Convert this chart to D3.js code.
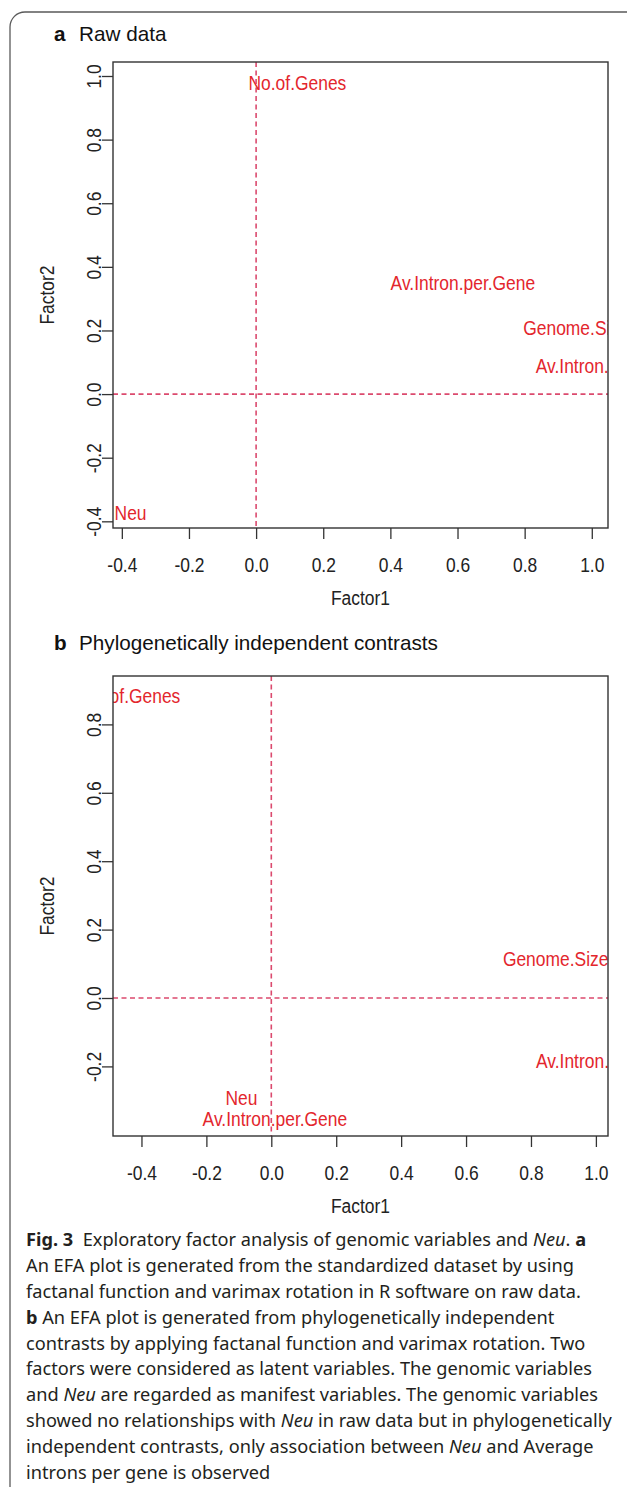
<!DOCTYPE html>
<html>
<head>
<meta charset="utf-8">
<script src="https://cdn.jsdelivr.net/npm/d3@7"></script>
<style>
  body { margin: 0; background: #fff; }
  svg text { font-family: "Liberation Sans", Arial, sans-serif; }
  .caption text { font-family: "Noto Sans", sans-serif; white-space: pre; }
</style>
</head>
<body>
<div id="container"></div>
<script>
/* CONSTANTS AND GLOBALS */
const width = 627,
  height = 1487,
  plotLeft = 113,
  plotRight = 608;

const labelRed = "#E3262D",
  lineRed = "#DB4A6E",
  axisColor = "#333",
  squeeze = 0.83; // the R text in the figure is narrower than Arial

/* DATA */
// manifest variables, same order in both panels
const variables = ["No.of.Genes", "Av.Intron.per.Gene", "Genome.Size", "Av.Intron.Length", "Neu"];

// a: raw data loadings
const rawFactor1 = [0.123, 0.616, 0.953, 1.021, -0.374];
const rawFactor2 = [0.981, 0.352, 0.211, 0.091, -0.371];

// b: phylogenetically independent contrasts loadings
const picFactor1 = [-0.431, 0.011, 0.876, 1.01, -0.092];
const picFactor2 = [0.886, -0.351, 0.117, -0.184, -0.292];

// axis limits and ticks
const rawXLim = [-0.4263, 1.0483], rawYLim = [-0.421, 1.044];
const picXLim = [-0.4877, 1.0373], picYLim = [-0.4035, 0.9415];
const rawXTicks = [-0.4, -0.2, 0, 0.2, 0.4, 0.6, 0.8, 1.0];
const rawYTicks = [-0.4, -0.2, 0, 0.2, 0.4, 0.6, 0.8, 1.0];
const picXTicks = [-0.4, -0.2, 0, 0.2, 0.4, 0.6, 0.8, 1.0];
const picYTicks = [-0.2, 0, 0.2, 0.4, 0.6, 0.8];

// caption, one entry per line: [text, style]
const captionLines = [
  [["Fig. 3", "b"], ["  Exploratory factor analysis of genomic variables and ", ""], ["Neu", "i"], [". ", ""], ["a", "b"]],
  [["An EFA plot is generated from the standardized dataset by using", ""]],
  [["factanal function and varimax rotation in R software on raw data.", ""]],
  [["b", "b"], [" An EFA plot is generated from phylogenetically independent", ""]],
  [["contrasts by applying factanal function and varimax rotation. Two", ""]],
  [["factors were considered as latent variables. The genomic variables", ""]],
  [["and ", ""], ["Neu", "i"], [" are regarded as manifest variables. The genomic variables", ""]],
  [["showed no relationships with ", ""], ["Neu", "i"], [" in raw data but in phylogenetically", ""]],
  [["independent contrasts, only association between ", ""], ["Neu", "i"], [" and Average", ""]],
  [["introns per gene is observed", ""]]
];

const fmt = d => d.toFixed(1);

/* HTML ELEMENTS */
const svg = d3.select("#container")
  .append("svg")
  .attr("width", width)
  .attr("height", height);

// outer frame with rounded top-left corner
svg.append("path")
  .attr("d", `M10,${height} V27 A15,15 0 0 1 25,12 H${width}`)
  .attr("fill", "none")
  .attr("stroke", "#5a5a5a")
  .attr("stroke-width", 1.3);

function drawPanel(opts) {
  const { id, letter, title, titleY, top, bottom, xLim, yLim, xTicks, yTicks, f1, f2 } = opts;

  const xScale = d3.scaleLinear().domain(xLim).range([plotLeft, plotRight]);
  const yScale = d3.scaleLinear().domain(yLim).range([bottom, top]);

  // panel title
  const t = svg.append("text")
    .attr("x", 54)
    .attr("y", titleY)
    .attr("font-size", 20.7)
    .attr("fill", "#111");
  t.append("tspan").attr("font-weight", "bold").text(letter);
  t.append("tspan").attr("x", 79).text(title);

  // clip to plot region like R does
  svg.append("clipPath").attr("id", "clip-" + id)
    .append("rect")
    .attr("x", plotLeft).attr("y", top)
    .attr("width", plotRight - plotLeft).attr("height", bottom - top);

  const inner = svg.append("g").attr("clip-path", `url(#clip-${id})`);

  // reference lines at 0
  inner.append("line")
    .attr("x1", plotLeft).attr("x2", plotRight)
    .attr("y1", yScale(0)).attr("y2", yScale(0))
    .attr("stroke", lineRed).attr("stroke-width", 1.6)
    .attr("stroke-dasharray", "5,3.5");
  inner.append("line")
    .attr("x1", xScale(0)).attr("x2", xScale(0))
    .attr("y1", top).attr("y2", bottom)
    .attr("stroke", lineRed).attr("stroke-width", 1.6)
    .attr("stroke-dasharray", "5,3.5");

  // variable labels
  inner.selectAll("text.var")
    .data(variables.map((v, i) => ({ name: v, f1: f1[i], f2: f2[i] })))
    .join("text")
    .attr("class", "var")
    .attr("transform", d => `translate(${xScale(d.f1)},${yScale(d.f2)}) scale(${squeeze},1)`)
    .attr("text-anchor", "middle")
    .attr("dy", "0.36em")
    .attr("font-size", 21)
    .attr("fill", labelRed)
    .text(d => d.name);

  // axes
  const xAxis = d3.axisBottom(xScale)
    .tickValues(xTicks).tickFormat(fmt)
    .tickSizeInner(11).tickSizeOuter(0);
  const gx = svg.append("g")
    .attr("transform", `translate(0,${bottom})`)
    .call(xAxis);
  gx.select(".domain").remove();
  gx.selectAll("line").attr("stroke", axisColor).attr("stroke-width", 1.3);
  gx.selectAll("text")
    .attr("y", 36).attr("dy", "0.36em")
    .attr("transform", `scale(${squeeze},1)`)
    .attr("font-size", 21).attr("fill", "#222")
    .attr("font-family", null);

  const yAxis = d3.axisLeft(yScale)
    .tickValues(yTicks).tickFormat(fmt)
    .tickSizeInner(11).tickSizeOuter(0);
  const gy = svg.append("g")
    .attr("transform", `translate(${plotLeft},0)`)
    .call(yAxis);
  gy.select(".domain").remove();
  gy.selectAll("line").attr("stroke", axisColor).attr("stroke-width", 1.3);
  gy.selectAll("text")
    .attr("x", 0).attr("y", 0).attr("dy", "0.36em")
    .attr("text-anchor", "middle")
    .attr("transform", `translate(-20,0) rotate(-90) scale(${squeeze},1)`)
    .attr("font-size", 21).attr("fill", "#222")
    .attr("font-family", null);

  // box
  svg.append("rect")
    .attr("x", plotLeft).attr("y", top)
    .attr("width", plotRight - plotLeft).attr("height", bottom - top)
    .attr("fill", "none")
    .attr("stroke", axisColor).attr("stroke-width", 1.4);

  // axis titles
  svg.append("text")
    .attr("transform", `translate(${(plotLeft + plotRight) / 2},${bottom + 69}) scale(${squeeze},1)`)
    .attr("text-anchor", "middle").attr("dy", "0.36em")
    .attr("font-size", 21).attr("fill", "#222")
    .text("Factor1");
  svg.append("text")
    .attr("transform", `translate(${plotLeft - 67},${(top + bottom) / 2}) rotate(-90) scale(${squeeze},1)`)
    .attr("text-anchor", "middle").attr("dy", "0.36em")
    .attr("font-size", 21).attr("fill", "#222")
    .text("Factor2");
}

drawPanel({
  id: "a", letter: "a", title: "Raw data", titleY: 41,
  top: 62, bottom: 528,
  xLim: rawXLim, yLim: rawYLim, xTicks: rawXTicks, yTicks: rawYTicks,
  f1: rawFactor1, f2: rawFactor2
});

drawPanel({
  id: "b", letter: "b", title: "Phylogenetically independent contrasts", titleY: 650,
  top: 676, bottom: 1136,
  xLim: picXLim, yLim: picYLim, xTicks: picXTicks, yTicks: picYTicks,
  f1: picFactor1, f2: picFactor2
});

/* CAPTION */
const cap = svg.append("g").attr("class", "caption");
const lines = cap.selectAll("text")
  .data(captionLines)
  .join("text")
  .attr("x", 0)
  .attr("y", (d, i) => 1246 + i * 25.9)
  .attr("font-size", 18)
  .attr("fill", "#231f20");
lines.selectAll("tspan")
  .data(d => d)
  .join("tspan")
  .attr("font-weight", d => d[1] === "b" ? "bold" : null)
  .attr("font-style", d => d[1] === "i" ? "italic" : null)
  .text(d => d[0]);

// squeeze the caption so the longest line spans like the original
const longest = lines.filter((d, i) => i === 7).node().getComputedTextLength();
cap.attr("transform", `translate(26,0) scale(${586 / longest},1)`);
</script>
</body>
</html>
